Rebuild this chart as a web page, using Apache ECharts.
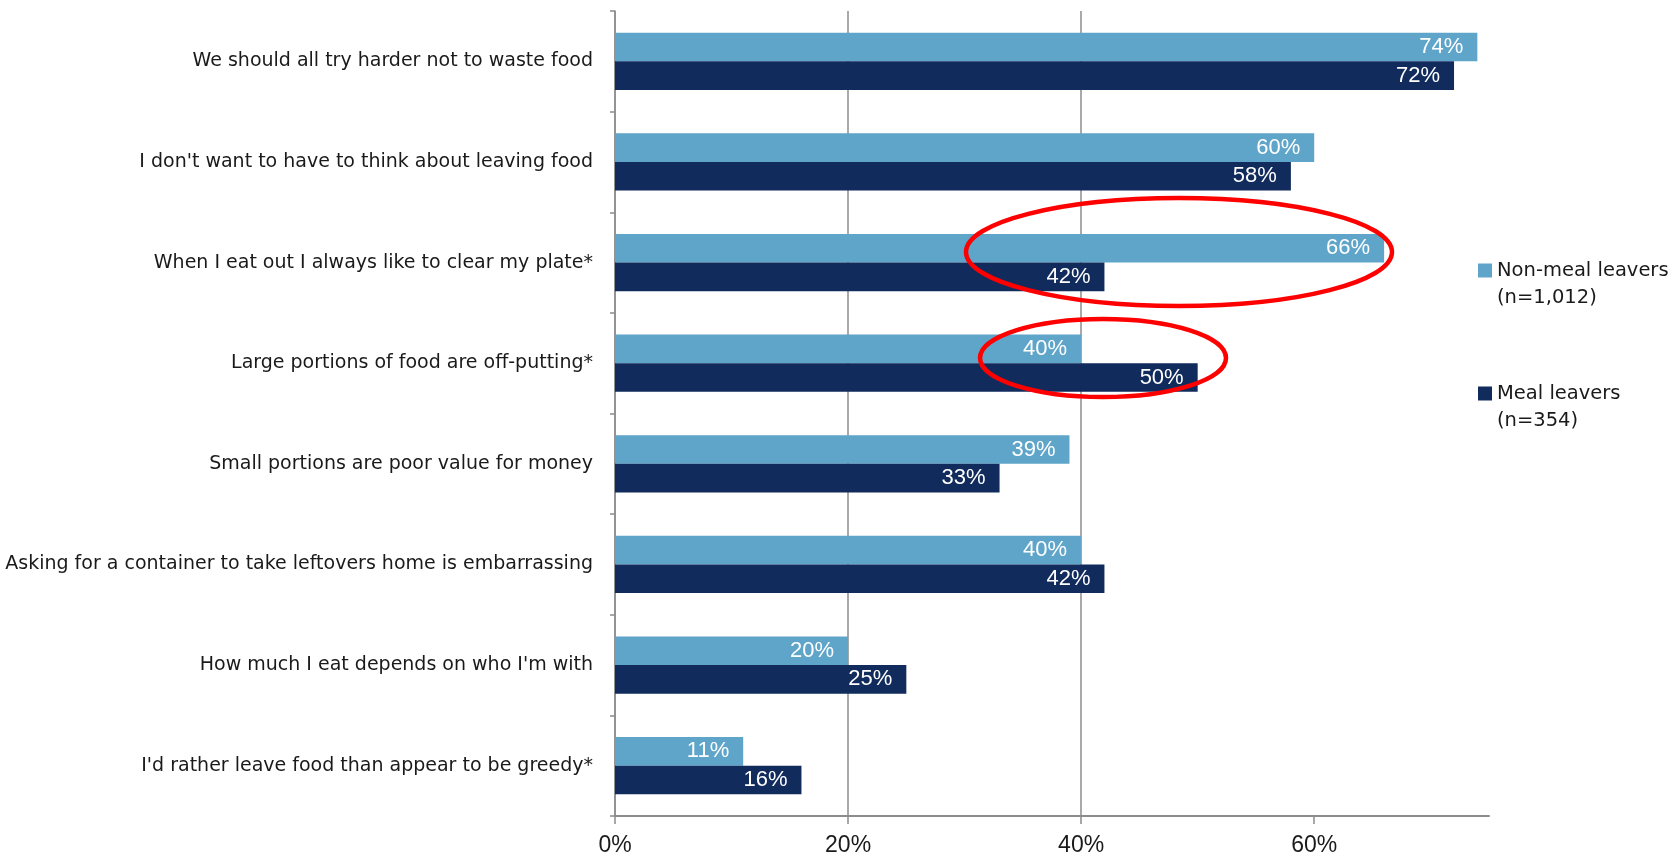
<!DOCTYPE html>
<html>
<head>
<meta charset="utf-8">
<script src="https://cdn.jsdelivr.net/npm/echarts@6/dist/echarts.min.js"></script>
<style>
  html, body { margin: 0; padding: 0; background: #ffffff; }
  #chart { width: 1669px; height: 856px; }
</style>
</head>
<body>
<div id="chart"></div>
<script>
// Attitudes towards leaving food, by group (% agreeing)
const categories = [
  "We should all try harder not to waste food",
  "I don't want to have to think about leaving food",
  "When I eat out I always like to clear my plate*",
  "Large portions of food are off-putting*",
  "Small portions are poor value for money",
  "Asking for a container to take leftovers home is embarrassing",
  "How much I eat depends on who I'm with",
  "I'd rather leave food than appear to be greedy*"
];
const nonMealLeavers = [74, 60, 66, 40, 39, 40, 20, 11];
const mealLeavers = [72, 58, 42, 50, 33, 42, 25, 16];
const seriesNames = ["Non-meal leavers\n(n=1,012)", "Meal leavers\n(n=354)"];
const tickValues = [0, 20, 40, 60];

const LIGHT = '#5EA5C9';
const DARK = '#112B5C';
const GRID_GREY = '#8c8c8c';
const numberFont = '"Liberation Sans", Arial, sans-serif';
const textFont = '"DejaVu Sans", Verdana, sans-serif';

const chart = echarts.init(document.getElementById('chart'), null, { renderer: 'canvas' });

const barLabel = {
  show: true,
  position: 'insideRight',
  distance: 14,
  color: '#ffffff',
  fontFamily: numberFont,
  fontSize: 22,
  formatter: p => p.value + '%'
};

// a blank leading line keeps the swatch level with the first line of each entry
const legendBase = {
  orient: 'vertical', left: 1478, padding: 0,
  itemWidth: 14, itemHeight: 14, itemGap: 0, icon: 'rect',
  formatter: name => '\n' + name,
  textStyle: {
    fontFamily: textFont,
    fontSize: 19.5,
    color: '#1a1a1a',
    lineHeight: 27
  }
};

chart.setOption({
  animation: false,
  backgroundColor: '#ffffff',
  grid: { left: 615, top: 11, right: 180, bottom: 40, containLabel: false, outerBoundsMode: 'none' },
  legend: [
    Object.assign({ data: [seriesNames[0]], top: 230 }, legendBase),
    Object.assign({ data: [seriesNames[1]], top: 353 }, legendBase)
  ],
  xAxis: {
    type: 'value',
    min: 0,
    max: 75,
    interval: 20,
    axisLine: { show: true, lineStyle: { color: GRID_GREY, width: 2 } },
    axisTick: { show: true, length: 8, customValues: tickValues, lineStyle: { color: GRID_GREY, width: 1.5 } },
    axisLabel: {
      customValues: tickValues,
      formatter: '{value}%',
      margin: 18,
      color: '#1a1a1a',
      fontFamily: numberFont,
      fontSize: 23
    },
    splitLine: { show: true, showMaxLine: false, lineStyle: { color: GRID_GREY, width: 1.5 } }
  },
  yAxis: {
    type: 'category',
    data: categories,
    inverse: true,
    axisLine: { show: true, lineStyle: { color: GRID_GREY, width: 1.5 } },
    axisTick: { show: true, length: 5, lineStyle: { color: GRID_GREY, width: 1.5 } },
    axisLabel: {
      margin: 22,
      color: '#1a1a1a',
      fontFamily: textFont,
      fontSize: 19
    },
    splitLine: { show: false }
  },
  series: [
    {
      name: seriesNames[0],
      type: 'bar',
      data: nonMealLeavers,
      itemStyle: { color: LIGHT },
      barGap: '0%',
      barCategoryGap: '43%',
      label: barLabel
    },
    {
      name: seriesNames[1],
      type: 'bar',
      data: mealLeavers,
      itemStyle: { color: DARK },
      barGap: '0%',
      barCategoryGap: '43%',
      label: barLabel
    }
  ],
  graphic: [
    {
      type: 'ellipse', z: 100,
      shape: { cx: 1179, cy: 252, rx: 213, ry: 54 },
      style: { fill: 'none', stroke: '#ff0000', lineWidth: 4.5 }
    },
    {
      type: 'ellipse', z: 100,
      shape: { cx: 1103, cy: 358, rx: 123, ry: 39 },
      style: { fill: 'none', stroke: '#ff0000', lineWidth: 4.5 }
    }
  ]
});
</script>
</body>
</html>
